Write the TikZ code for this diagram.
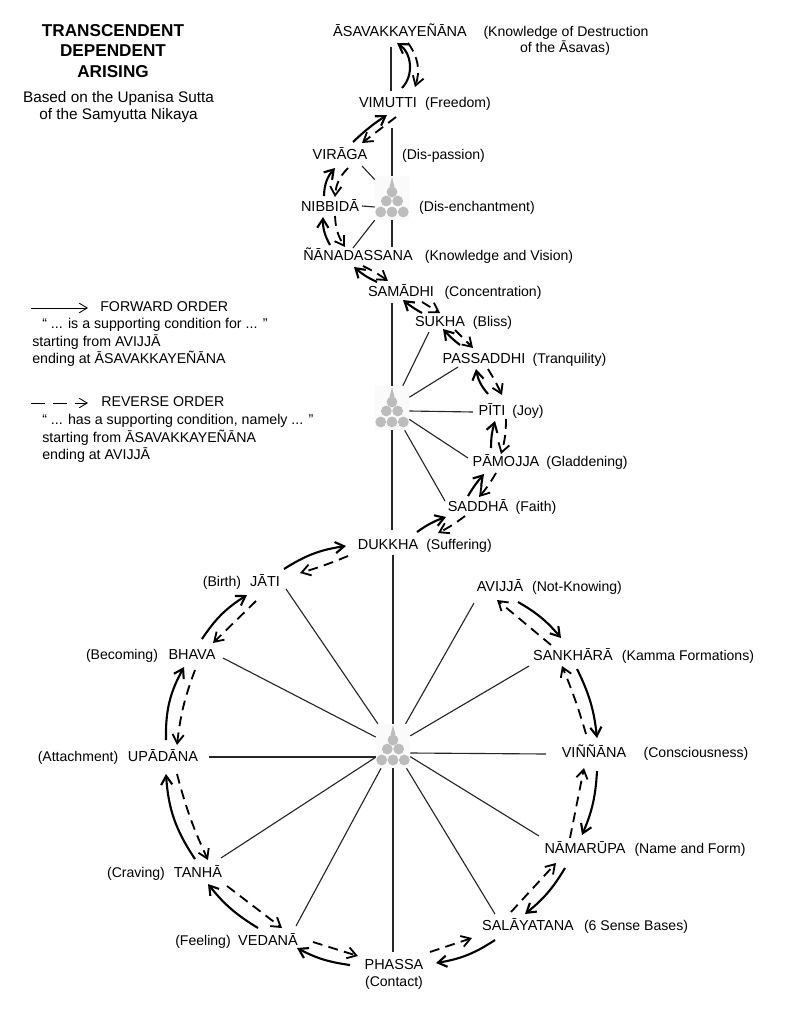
\documentclass[tikz,border=0pt]{standalone}
\usepackage{fontspec}
\setmainfont{Liberation Sans}
\usepackage{tikz}
\usetikzlibrary{arrows.meta,calc}

\definecolor{stupagray}{HTML}{BCBCBC}

\tikzset{
term/.style={inner sep=0pt,font=\fontsize{10.3}{12}\selectfont,text height=7.5pt,text depth=1.5pt},
gloss/.style={inner sep=0pt,font=\fontsize{10}{12}\selectfont,text height=7.5pt,text depth=1.5pt},
note/.style={inner sep=0pt,anchor=west,font=\fontsize{10.1}{12}\selectfont,text height=7.5pt,text depth=1.5pt},
spoke/.style={line width=0.8pt,black!85},
forward/.style={line width=1.5pt,-{Straight Barb[length=2.2mm,width=2.8mm]}},
reverse/.style={line width=1.3pt,dash pattern=on 7pt off 4.5pt,-{Straight Barb[length=2.2mm,width=2.8mm]}},
stupabox/.style={minimum width=0.85cm,minimum height=1.1cm,inner sep=0pt,fill=black!2},
stupa/.pic={
\fill[stupagray] (0,-21) -- (2.5,-11) -- (-2.5,-11) -- cycle;
\foreach \a/\b in {0/-6,-5.7/3,5.7/3,-11.3/14,0/14,11.3/14}{
\fill[stupagray] (\a,\b) circle (5.4);}
}
}

\begin{document}
\begin{tikzpicture}[x=0.025cm,y=-0.025cm]
\useasboundingbox (0,0) rectangle (790,1024);

\node[align=center,inner sep=0pt,font=\fontsize{12.2}{14.6}\selectfont\bfseries] (title) at (113,51) {TRANSCENDENT\\DEPENDENT\\ARISING};
\node[align=center,inner sep=0pt,font=\fontsize{10.9}{12.1}\selectfont] (source) at (118.5,107.5) {Based on the Upanisa Sutta\\of the Samyutta Nikaya};

\foreach \n/\x/\y/\term/\gx/\glosstext in {
vimutti/388/103/{VIMUTTI}/458/{(Freedom)},
viraga/340/155/{VIRĀGA}/443.5/{(Dis-passion)},
nibbida/330/207/{NIBBIDĀ}/477/{(Dis-enchantment)},
nana/358/256/{ÑĀNADASSANA}/499/{(Knowledge and Vision)},
samadhi/401/292/{SAMĀDHI}/493/{(Concentration)},
sukha/440/322/{SUKHA}/492.5/{(Bliss)},
passaddhi/484/359/{PASSADDHI}/569.5/{(Tranquility)},
piti/492/411/{PĪTI}/528/{(Joy)},
pamojja/506/462/{PĀMOJJA}/587/{(Gladdening)},
saddha/478/507/{SADDHĀ}/536/{(Faith)},
dukkha/388/545/{DUKKHA}/459/{(Suffering)},
jati/265/582/{JĀTI}/222/{(Birth)},
bhava/192/655/{BHAVA}/122/{(Becoming)},
upadana/163/757/{UPĀDĀNA}/78/{(Attachment)},
tanha/198/873/{TANHĀ}/136/{(Craving)},
vedana/268/941/{VEDANĀ}/203/{(Feeling)},
salayatana/528/926/{SALĀYATANA}/636/{(6 Sense Bases)},
namarupa/585/849/{NĀMARŪPA}/690/{(Name and Form)},
vinnana/594/753/{VIÑÑĀNA}/696/{(Consciousness)},
sankhara/573/656/{SANKHĀRĀ}/688/{(Kamma Formations)},
avijja/500/587/{AVIJJĀ}/577/{(Not-Knowing)}}{
\node[term] (\n) at (\x,\y) {\term};
\node[gloss] (\n-gloss) at (\gx,\y) {\glosstext};}

\node[term] (asava) at (400,32) {ĀSAVAKKAYEÑĀNA};
\node[gloss] (asava-gloss) at (566,32) {(Knowledge of Destruction};
\node[gloss] (asava-gloss2) at (565,48) {of the Āsavas)};
\node[term] (phassa) at (394,965) {PHASSA};
\node[gloss] (phassa-gloss) at (394,982) {(Contact)};

\foreach \n/\x/\y/\t in {
fwdorder/100/307/{FORWARD ORDER},
fwdmeaning/42/324/{“ ... is a supporting condition for ... ”},
fwdfrom/32/342/{starting from AVIJJĀ},
fwdto/32/359/{ending at ĀSAVAKKAYEÑĀNA},
revorder/101/402/{REVERSE ORDER},
revmeaning/42/420/{“ ... has a supporting condition, namely ... ”},
revfrom/42/438/{starting from ĀSAVAKKAYEÑĀNA},
revto/42/455/{ending at AVIJJĀ}}{
\node[note] (\n) at (\x,\y) {\t};}

\coordinate (fwdtail) at (31,308);
\coordinate (revtail) at (31,403);
\draw[line width=0.6pt,-{Straight Barb[length=2mm,width=2.4mm]}] (fwdtail) -- ($(fwdorder.west)+(-12,1)$);
\draw[line width=0.6pt,dash pattern=on 10pt off 5.5pt,-{Straight Barb[length=2mm,width=2.4mm]}] (revtail) -- ($(revorder.west)+(-13,1)$);

\node[stupabox] (stupaA) at (392,198) {};
\node[stupabox] (stupaB) at (392,408) {};
\node[stupabox] (stupaC) at (393,746) {};
\pic at (stupaA) {stupa};
\pic at (stupaB) {stupa};
\pic at (stupaC) {stupa};

\draw[spoke] ($(asava)+(-9,15)$) -- ($(vimutti)+(3,-12)$);
\foreach \n/\dx/\dy in {vimutti/4/25,viraga/22/11,nana/-5/-8,nana/34/-9}{
\draw[spoke] (stupaA) -- ($(\n)+(\dx,\dy)$);}
\draw[spoke] ($(nibbida)+(32,-1)$) -- (stupaA.west |- nibbida);

\foreach \n/\dx/\dy in {samadhi/-9/11,sukha/-11/10,passaddhi/-26/8,pamojja/-38/-4,saddha/-33/-6,dukkha/4/-15}{
\draw[spoke] (stupaB) -- ($(\n)+(\dx,\dy)$);}
\draw[spoke] ($(piti)+(-19,1)$) -- (stupaB.east |- piti);

\foreach \n/\dx/\dy in {dukkha/5/10,jati/21/7,bhava/31/3,tanha/23/-15,vedana/28/-15,phassa/-1/-13,salayatana/-33/-12,namarupa/-46/-13,sankhara/-44/10,avijja/-26/16}{
\draw[spoke] (stupaC) -- ($(\n)+(\dx,\dy)$);}
\draw[spoke] ($(upadana)+(46,0)$) -- (stupaC.west |- upadana);
\draw[spoke] ($(vinnana)+(-48,1)$) -- (stupaC.east |- vinnana);

\foreach \a/\ax/\ay/\b/\bx/\by/\ang in {
avijja/18/15/sankhara/-12/-18/10,
sankhara/4/13/vinnana/3/-15/10,
vinnana/3/18/namarupa/-3/-14/10,
namarupa/-20/19/salayatana/-3/-12/10,
salayatana/-33/14/phassa/42/-2/12,
phassa/-44/0/vedana/29/7/10,
vedana/-10/-13/tanha/10/11/10,
tanha/-3/-14/upadana/3/17/15,
upadana/3/-17/bhava/-8/12/15,
bhava/10/-16/jati/-18/13/12,
jati/19/-13/dukkha/-42/1/12,
dukkha/29/-13/saddha/-32/10/8,
saddha/-10/-11/pamojja/-22/12/5,
pamojja/-15/-14/piti/3/10/8,
piti/-4/-17/passaddhi/-8/10/15,
passaddhi/-24/-14/sukha/3/7/5,
sukha/-18/-9/samadhi/2/8/5,
samadhi/-24/-10/nana/-4/11/8,
nana/-28/-11/nibbida/-7/10/15,
nibbida/-6/-11/viraga/-5/13/20,
viraga/13/-13/vimutti/-1/12/5,
vimutti/14/-15/asava/-3/11/-50}{
\draw[forward] ($(\a)+(\ax,\ay)$) to[bend left=\ang] ($(\b)+(\bx,\by)$);}

\foreach \a/\ax/\ay/\b/\bx/\by/\ang in {
asava/8/11/vimutti/27/-16/27,
vimutti/8/14/viraga/22/-12/0,
viraga/8/13/nibbida/5/-10/-20,
nibbida/5/9/nana/-13/-9/-15,
nana/5/10/samadhi/-13/-11/5,
samadhi/21/10/sukha/0/-9/0,
sukha/15/8/passaddhi/-11/-11/0,
passaddhi/4/10/piti/10/-16/3,
piti/14/8/pamojja/-5/-8/8,
pamojja/-10/11/saddha/1/-10/5,
saddha/-13/9/dukkha/50/-12/5,
dukkha/-40/11/jati/35/-9/3,
jati/-9/19/bhava/21/-12/0,
bhava/3/15/upadana/14/-12/-7,
upadana/14/17/tanha/10/-13/-5,
tanha/29/13/vedana/14/-13/0,
vedana/45/1/phassa/-36/-9/0,
phassa/36/-13/salayatana/-56/12/0,
salayatana/-17/-14/namarupa/-29/14/0,
namarupa/-15/-11/vinnana/-10/15/0,
vinnana/-8/-19/sankhara/-11/10/-3,
sankhara/-22/-11/avijja/-3/13/0}{
\draw[reverse] ($(\a)+(\ax,\ay)$) to[bend left=\ang] ($(\b)+(\bx,\by)$);}

\end{tikzpicture}
\end{document}
